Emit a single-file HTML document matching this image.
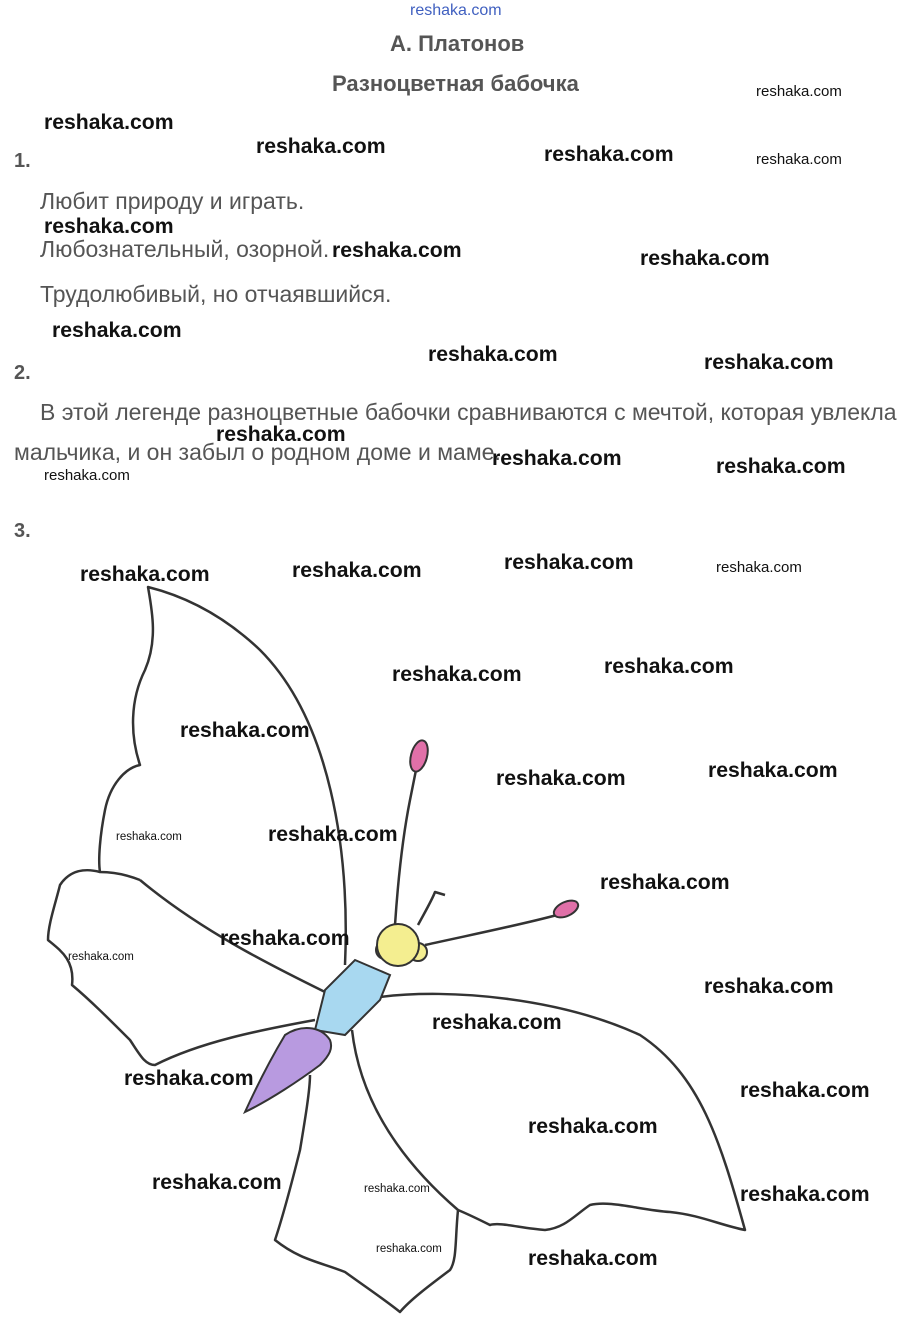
<!DOCTYPE html>
<html><head><meta charset="utf-8"><style>
body{margin:0;width:914px;height:1330px;background:#fff;position:relative;overflow:hidden;font-family:"Liberation Sans",sans-serif}
.t{position:absolute;white-space:nowrap;color:#555;font-size:23px}
.w{position:absolute;white-space:nowrap;color:#111;font-weight:bold;font-size:21.2px;font-family:"Liberation Sans",sans-serif}
.s{position:absolute;white-space:nowrap;color:#111;font-size:15px}
.x{position:absolute;white-space:nowrap;color:#111;font-size:11.5px}
.n{position:absolute;color:#555;font-weight:bold;font-size:20px}
</style></head><body>
<div class="s" style="left:410px;top:2px;color:#4060c0;font-size:16px">reshaka.com</div>
<div class="t" style="left:390px;top:31px;font-weight:bold;font-size:22px">А. Платонов</div>
<div class="t" style="left:332px;top:71px;font-weight:bold;font-size:22px">Разноцветная бабочка</div>
<div class="n" style="left:14px;top:150px">1.</div>
<div class="t" style="left:40px;top:188px">Любит природу и играть.</div>
<div class="t" style="left:40px;top:236px">Любознательный, озорной.</div>
<div class="t" style="left:40px;top:281px">Трудолюбивый, но отчаявшийся.</div>
<div class="n" style="left:14px;top:362px">2.</div>
<div class="t" style="left:40px;top:399px">В этой легенде разноцветные бабочки сравниваются с мечтой, которая увлекла</div>
<div class="t" style="left:14px;top:439px">мальчика, и он забыл о родном доме и маме.</div>
<div class="n" style="left:14px;top:520px">3.</div>
<svg style="position:absolute;left:0;top:0" width="914" height="1330">
<g fill="none" stroke="#333" stroke-width="2.5" stroke-linejoin="round">
<path d="M345,965 C350,850 330,720 260,650 C220,612 180,595 148,587 C152,610 158,640 145,670 C130,700 130,735 140,765 C125,768 110,785 105,810 C100,835 98,860 100,872 C115,872 130,876 140,880"/>
<path d="M140,880 C200,930 270,965 325,992"/>
<path d="M100,872 C85,868 70,870 60,885 C55,905 48,925 48,940 C60,950 75,960 72,985 C90,1000 110,1020 130,1040 C140,1055 145,1065 155,1065 C200,1042 260,1030 315,1020"/>
<path d="M380,997 C450,988 560,998 640,1035 C700,1075 720,1140 745,1230 C720,1225 700,1215 670,1212 C640,1210 610,1200 590,1205 C575,1215 565,1228 545,1230 C520,1228 500,1222 490,1225 C480,1220 470,1215 458,1210"/>
<path d="M352,1030 C360,1100 400,1160 458,1210 C455,1240 457,1260 450,1270 C430,1285 410,1300 400,1312 C385,1300 370,1290 345,1272 C320,1262 300,1260 275,1240 C285,1210 295,1170 300,1150 C305,1120 310,1090 310,1075"/>
<path d="M395,925 C398,880 402,840 410,800 L416,770"/>
<path d="M425,945 C470,935 520,925 557,915"/>
<path d="M418,925 C425,912 432,900 435,892 L445,895"/>
</g>
<ellipse cx="419" cy="756" rx="8" ry="16" fill="#e070a8" stroke="#333" stroke-width="2" transform="rotate(15 419 756)"/>
<ellipse cx="566" cy="909" rx="13" ry="7" fill="#e070a8" stroke="#333" stroke-width="2" transform="rotate(-25 566 909)"/>
<path d="M355,960 L390,975 L380,1000 L345,1035 L315,1030 L325,990 Z" fill="#a8d8f0" stroke="#333" stroke-width="2"/>
<circle cx="385" cy="950" r="9" fill="#f4ee90" stroke="#333" stroke-width="2"/>
<circle cx="418" cy="952" r="9" fill="#f4ee90" stroke="#333" stroke-width="2"/>
<circle cx="398" cy="945" r="21" fill="#f4ee90" stroke="#333" stroke-width="2"/>
<path d="M330,1040 C320,1025 300,1025 285,1035 C270,1060 255,1090 245,1112 C270,1100 300,1080 320,1065 C330,1055 333,1048 330,1040 Z" fill="#b89ae0" stroke="#333" stroke-width="2"/>
</svg>
<div class="w" style="left:44px;top:111px">reshaka.com</div>
<div class="w" style="left:256px;top:135px">reshaka.com</div>
<div class="w" style="left:544px;top:143px">reshaka.com</div>
<div class="s" style="left:756px;top:83px">reshaka.com</div>
<div class="s" style="left:756px;top:151px">reshaka.com</div>
<div class="w" style="left:44px;top:215px">reshaka.com</div>
<div class="w" style="left:332px;top:239px">reshaka.com</div>
<div class="w" style="left:640px;top:247px">reshaka.com</div>
<div class="w" style="left:52px;top:319px">reshaka.com</div>
<div class="w" style="left:428px;top:343px">reshaka.com</div>
<div class="w" style="left:704px;top:351px">reshaka.com</div>
<div class="w" style="left:216px;top:423px">reshaka.com</div>
<div class="w" style="left:492px;top:447px">reshaka.com</div>
<div class="w" style="left:716px;top:455px">reshaka.com</div>
<div class="s" style="left:44px;top:467px">reshaka.com</div>
<div class="w" style="left:80px;top:563px">reshaka.com</div>
<div class="w" style="left:292px;top:559px">reshaka.com</div>
<div class="w" style="left:504px;top:551px">reshaka.com</div>
<div class="s" style="left:716px;top:559px">reshaka.com</div>
<div class="w" style="left:392px;top:663px">reshaka.com</div>
<div class="w" style="left:604px;top:655px">reshaka.com</div>
<div class="w" style="left:180px;top:719px">reshaka.com</div>
<div class="w" style="left:496px;top:767px">reshaka.com</div>
<div class="w" style="left:708px;top:759px">reshaka.com</div>
<div class="x" style="left:116px;top:831px">reshaka.com</div>
<div class="w" style="left:268px;top:823px">reshaka.com</div>
<div class="w" style="left:600px;top:871px">reshaka.com</div>
<div class="w" style="left:220px;top:927px">reshaka.com</div>
<div class="x" style="left:68px;top:951px">reshaka.com</div>
<div class="w" style="left:704px;top:975px">reshaka.com</div>
<div class="w" style="left:432px;top:1011px">reshaka.com</div>
<div class="w" style="left:124px;top:1067px">reshaka.com</div>
<div class="w" style="left:740px;top:1079px">reshaka.com</div>
<div class="w" style="left:528px;top:1115px">reshaka.com</div>
<div class="w" style="left:152px;top:1171px">reshaka.com</div>
<div class="x" style="left:364px;top:1183px">reshaka.com</div>
<div class="w" style="left:740px;top:1183px">reshaka.com</div>
<div class="x" style="left:376px;top:1243px">reshaka.com</div>
<div class="w" style="left:528px;top:1247px">reshaka.com</div>
</body></html>
